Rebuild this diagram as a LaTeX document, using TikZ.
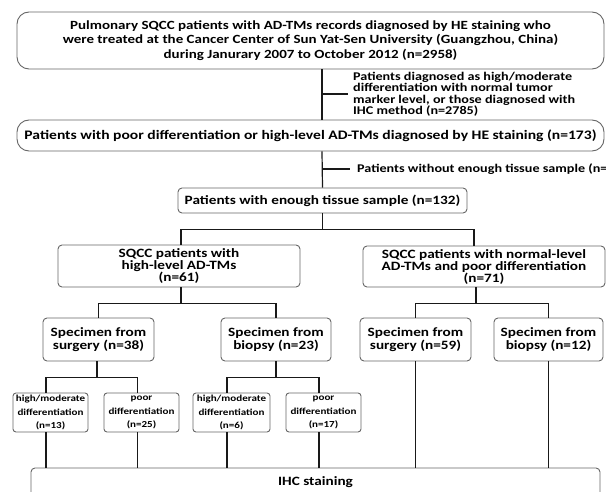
\documentclass[tikz,border=0pt]{standalone}
\usepackage{fontspec}
\setmainfont{Carlito}[FakeStretch=1.2]
\usetikzlibrary{calc}

\tikzset{
  box/.style={draw=black!60, line width=0.9pt, rounded corners=4pt, inner sep=0pt,
    align=center, font=\bfseries\fontsize{12.7}{13}\selectfont},
  bigbox/.style={box, rounded corners=12pt, font=\bfseries\fontsize{12.5}{14.5}\selectfont},
  midbox/.style={box, font=\bfseries\fontsize{12.7}{12}\selectfont},
  smallbox/.style={box, rounded corners=3pt, font=\bfseries\fontsize{9.2}{13.5}\selectfont},
  note/.style={anchor=west, align=left, inner sep=0pt, font=\bfseries\fontsize{11.8}{11.5}\selectfont},
  link/.style={line width=1.2pt, black!90},
}

\begin{document}
\begin{tikzpicture}[x=1pt, y=-1pt]
\useasboundingbox (0,0) rectangle (606,492);
\clip (0,0) rectangle (606,492);

  % boxes
  \node[bigbox, minimum width=587, minimum height=57] (records) at (310.5,40.5)
    {Pulmonary SQCC patients with AD-TMs records diagnosed by HE staining who\\
     were treated at the Cancer Center of Sun Yat-Sen University (Guangzhou, China)\\
     during Janurary 2007 to October 2012 (n=2958)};
  \node[bigbox, minimum width=587, minimum height=31, font=\bfseries\fontsize{13}{14.5}\selectfont] (poor) at (310.5,135.5)
    {Patients with poor differentiation or high-level AD-TMs diagnosed by HE staining (n=173)};
  \node[box, minimum width=289, minimum height=25] (enough) at (322.5,200.5)
    {Patients with enough tissue sample (n=132)};
  \node[midbox, minimum width=242, minimum height=42] (high) at (179,266)
    {SQCC patients with\\high-level AD-TMs\\(n=61)};
  \node[midbox, minimum width=242, minimum height=41] (normal) at (484,266.5)
    {SQCC patients with normal-level\\AD-TMs and poor differentiation\\(n=71)};
  \node[box, minimum width=111, minimum height=43] (surgA) at (98.5,339.5)
    {Specimen from\\surgery (n=38)};
  \node[box, minimum width=110, minimum height=43] (biopA) at (276,339.5)
    {Specimen from\\biopsy (n=23)};
  \node[box, minimum width=111, minimum height=43] (surgB) at (415.5,339.5)
    {Specimen from\\surgery (n=59)};
  \node[box, minimum width=109, minimum height=43] (biopB) at (548.5,339.5)
    {Specimen from\\biopsy (n=12)};
  \node[smallbox, minimum width=75, minimum height=39] (hmA) at (50.5,412.5)
    {high/moderate\\differentiation\\(n=13)};
  \node[smallbox, minimum width=75, minimum height=39] (pdA) at (141.5,412.5)
    {poor\\differentiation\\(n=25)};
  \node[smallbox, minimum width=77, minimum height=39] (hmB) at (231.5,412.5)
    {high/moderate\\differentiation\\(n=6)};
  \node[smallbox, minimum width=75, minimum height=39] (pdB) at (323.5,412.5)
    {poor\\differentiation\\(n=17)};
  \node[box, minimum width=569, minimum height=28] (ihc) at (315.5,482)
    {IHC staining};

  % excluded
  \node[note] (exclA) at (353,94)
    {Patients diagnosed as high/moderate\\differentiation with normal tumor\\marker level, or those diagnosed with\\IHC method (n=2785)};
  \node[note] (exclB) at (357,169) {Patients without enough tissue sample (n=};

  % main line
  \coordinate (spine) at (322,0);
  \draw[link] (records.south -| spine) -- (poor.north -| spine); % records -- poor
  \draw[link] (spine |- exclA.west) -- ([xshift=-5pt]exclA.west); % -- exclA
  \draw[link] (poor.south -| spine) -- (enough.north); % poor -- enough
  \draw[link] (spine |- exclB.west) -- ([xshift=-7pt]exclB.west); % -- exclB

  % enough -> high, normal
  \draw[link] (enough.south) -- ++(0,16) coordinate (fork0);
  \draw[link] ([xshift=2pt]high.north) |- (fork0) -| ([xshift=-10pt]normal.north);

  % high -> surgA, biopA
  \draw[link] ([xshift=2pt]high.south) -- ++(0,16) coordinate (fork1);
  \draw[link] (surgA.north) |- (fork1) -| (biopA.north);
  % normal -> surgB, biopB
  \draw[link] ([xshift=-8pt]normal.south) -- ++(0,16) coordinate (fork2);
  \draw[link] (surgB.north) |- (fork2) -| (biopB.north);

  % surgA -> hmA, pdA
  \draw[link] ([xshift=-1.5pt]surgA.south) -- ++(0,16) coordinate (fork3);
  \draw[link] ([xshift=-4.5pt]hmA.north) |- (fork3) -| ([xshift=-4pt]pdA.north);
  % biopA -> hmB, pdB
  \draw[link] (biopA.south) -- ++(0,16) coordinate (fork4);
  \draw[link] ([xshift=-4.5pt]hmB.north) |- (fork4) -| ([xshift=-4.5pt]pdB.north);

  % down to IHC
  \draw[link] ([xshift=-4.5pt]hmA.south) coordinate (dA) -- (dA |- ihc.north);
  \draw[link] ([xshift=-4pt]pdA.south) coordinate (dB) -- (dB |- ihc.north);
  \draw[link] ([xshift=-4.5pt]hmB.south) coordinate (dC) -- (dC |- ihc.north);
  \draw[link] ([xshift=-4.5pt]pdB.south) coordinate (dD) -- (dD |- ihc.north);
  \draw[link] (surgB.south) -- (surgB.south |- ihc.north);
  \draw[link] (biopB.south) -- (biopB.south |- ihc.north);
\end{tikzpicture}
\end{document}
